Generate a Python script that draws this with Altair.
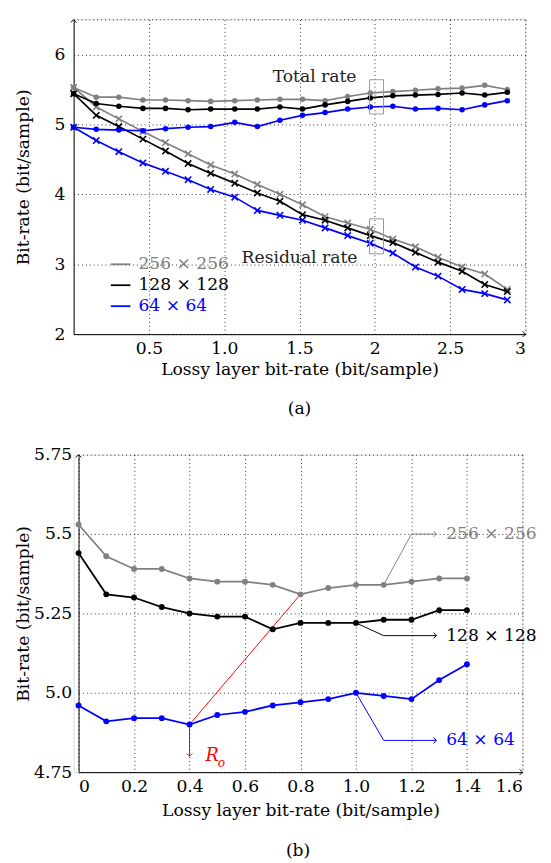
import altair as alt
import pandas as pd

FONT = "DejaVu Serif"
FS = 17.5

sizes = ["256 × 256", "128 × 128", "64 × 64"]
colors = ["#808080", "#000000", "#0000ff"]

# ---- panel (a) ----
x_top = [0.00, 0.15, 0.30, 0.46, 0.61, 0.76, 0.91, 1.07, 1.22, 1.37,
         1.52, 1.67, 1.82, 1.97, 2.12, 2.27, 2.42, 2.58, 2.73, 2.88]
total_256 = [5.53, 5.39, 5.39, 5.35, 5.35, 5.34, 5.33, 5.34, 5.35, 5.36,
             5.36, 5.34, 5.40, 5.45, 5.47, 5.49, 5.51, 5.52, 5.56, 5.50]
total_128 = [5.44, 5.30, 5.26, 5.23, 5.23, 5.21, 5.22, 5.22, 5.22, 5.25,
             5.22, 5.28, 5.33, 5.38, 5.41, 5.42, 5.43, 5.45, 5.42, 5.46]
total_64 = [4.96, 4.93, 4.92, 4.91, 4.94, 4.96, 4.97, 5.03, 4.97, 5.06,
            5.13, 5.17, 5.22, 5.25, 5.26, 5.22, 5.23, 5.21, 5.28, 5.34]
resid_256 = [5.53, 5.25, 5.08, 4.90, 4.74, 4.58, 4.42, 4.29, 4.14, 4.00,
             3.85, 3.68, 3.59, 3.50, 3.36, 3.25, 3.10, 2.96, 2.86, 2.64]
resid_128 = [5.44, 5.13, 4.97, 4.79, 4.62, 4.44, 4.30, 4.16, 4.02, 3.90,
             3.71, 3.63, 3.52, 3.41, 3.31, 3.17, 3.03, 2.90, 2.71, 2.61]
resid_64 = [4.96, 4.77, 4.61, 4.45, 4.33, 4.21, 4.07, 3.96, 3.77, 3.70,
            3.63, 3.52, 3.41, 3.30, 3.16, 2.96, 2.83, 2.64, 2.58, 2.49]

top_x_ticks = [0.5, 1.0, 1.5, 2.0, 2.5, 3.0]
top_y_ticks = [2, 3, 4, 5, 6]
top_y_max = 6.5

# ---- panel (b) ----
x_bot = [0.0, 0.1, 0.2, 0.3, 0.4, 0.5, 0.6, 0.7, 0.8, 0.9, 1.0, 1.1, 1.2, 1.3, 1.4]
bot_256 = [5.53, 5.43, 5.39, 5.39, 5.36, 5.35, 5.35, 5.34, 5.31, 5.33, 5.34, 5.34, 5.35, 5.36, 5.36]
bot_128 = [5.44, 5.31, 5.30, 5.27, 5.25, 5.24, 5.24, 5.20, 5.22, 5.22, 5.22, 5.23, 5.23, 5.26, 5.26]
bot_64 = [4.96, 4.91, 4.92, 4.92, 4.90, 4.93, 4.94, 4.96, 4.97, 4.98, 5.00, 4.99, 4.98, 5.04, 5.09]

bot_x_ticks = [0, 0.2, 0.4, 0.6, 0.8, 1.0, 1.2, 1.4, 1.6]
bot_y_ticks = [4.75, 5.0, 5.25, 5.5, 5.75]

XMARK = "M-1,-1L1,1M-1,1L1,-1"
ARROW = "M-1,-1L0,0L-1,1"


def axis(values, expr, title, **kw):
    return alt.Axis(values=values, labelExpr=expr, title=title, grid=True,
                    gridDash=[1, 3], gridColor="#000000", gridOpacity=0.9, gridWidth=0.9,
                    ticks=False, domainColor="#000000", domainWidth=1,
                    labelFont=FONT, labelFontSize=FS, labelColor="#000000",
                    titleFont=FONT, titleFontSize=FS, titleFontWeight="normal",
                    titleColor="#000000", **kw)


# ================= panel (a) =================
sx_a = alt.Scale(domain=[0, 3], nice=False, zero=False)
sy_a = alt.Scale(domain=[2, top_y_max], nice=False, zero=False)
X_a = alt.X("x:Q", scale=sx_a, axis=axis(top_x_ticks, "datum.value == 1 ? '1.0' : toString(datum.value)",
                                          "Lossy layer bit-rate (bit/sample)", labelPadding=6, titlePadding=4))
Y_a = alt.Y("y:Q", scale=sy_a, axis=axis(top_y_ticks, "toString(datum.value)",
                                          "Bit-rate (bit/sample)", labelPadding=9,
                                          titleX=-51, titleBaseline="middle"))

layers_a = []
# top grid line at the end of the y range
topgrid = pd.DataFrame({"x": [0.0], "x2": [3.0], "y": [top_y_max]})
layers_a.append(alt.Chart(topgrid).mark_rule(color="#000000", strokeWidth=0.9, opacity=0.9,
                                             strokeDash=[1, 3]).encode(x=X_a, x2="x2:Q", y=Y_a))

for name, col, tot, res in zip(sizes, colors, [total_256, total_128, total_64],
                               [resid_256, resid_128, resid_64]):
    dt = pd.DataFrame({"x": x_top, "y": tot})
    dr = pd.DataFrame({"x": x_top, "y": res})
    layers_a.append(alt.Chart(dt).mark_line(color=col, strokeWidth=1.7).encode(x=X_a, y=Y_a))
    layers_a.append(alt.Chart(dt).mark_point(shape="circle", filled=True, size=32, color=col,
                                             opacity=1).encode(x=X_a, y=Y_a))
    layers_a.append(alt.Chart(dr).mark_line(color=col, strokeWidth=1.7).encode(x=X_a, y=Y_a))
    layers_a.append(alt.Chart(dr).mark_point(shape=XMARK, filled=False, size=42, color=col,
                                             strokeWidth=1.6, opacity=1).encode(x=X_a, y=Y_a))

boxes_a = pd.DataFrame({"x": [1.965, 1.965], "x2": [2.058, 2.058], "y": [5.15, 3.15], "y2": [5.64, 3.65]})
layers_a.append(alt.Chart(boxes_a).mark_rect(fill=None, stroke="#999999", strokeWidth=1).encode(
    x=X_a, x2="x2:Q", y=Y_a, y2="y2:Q"))

labels_a = pd.DataFrame({"x": [1.60, 1.50], "y": [5.68, 3.09], "t": ["Total rate", "Residual rate"]})
layers_a.append(alt.Chart(labels_a).mark_text(font=FONT, fontSize=FS, color="#222222").encode(
    x=X_a, y=Y_a, text="t:N"))

leg = pd.DataFrame({"x": [0.247] * 3, "x2": [0.377] * 3, "y": [3.0, 2.70, 2.40],
                    "tx": [0.43] * 3, "t": sizes, "c": colors})
cscale = alt.Scale(domain=sizes, range=colors)
layers_a.append(alt.Chart(leg).mark_rule(strokeWidth=1.8).encode(
    x=X_a, x2="x2:Q", y=Y_a, color=alt.Color("t:N", scale=cscale, legend=None)))
layers_a.append(alt.Chart(leg).mark_text(font=FONT, fontSize=FS, align="left").encode(
    x=alt.X("tx:Q", scale=sx_a), y=Y_a, text="t:N",
    color=alt.Color("t:N", scale=cscale, legend=None)))

arrows_a = pd.DataFrame({"x": [3.0, 0.0], "y": [2.0, top_y_max], "a": [0, 270]})
layers_a.append(alt.Chart(arrows_a).mark_point(shape=ARROW, filled=False, size=34, color="#000000",
                                               strokeWidth=1, opacity=1).encode(
    x=X_a, y=Y_a, angle=alt.Angle("a:Q", scale=None)))

top = alt.layer(*layers_a).properties(
    width=461, height=321,
    title=alt.TitleParams("(a)", orient="bottom", font=FONT, fontSize=FS, fontWeight="normal",
                          frame="group", anchor="middle", offset=23))

# ================= panel (b) =================
sx_b = alt.Scale(domain=[0, 1.6], nice=False, zero=False, range=[5, 458])
sy_b = alt.Scale(domain=[4.75, 5.75], nice=False, zero=False)
X_b = alt.X("x:Q", scale=sx_b, axis=axis(bot_x_ticks, "datum.value == 1 ? '1.0' : toString(datum.value)",
                                          "Lossy layer bit-rate (bit/sample)", labelPadding=6, titlePadding=7))
Y_b = alt.Y("y:Q", scale=sy_b, axis=axis(bot_y_ticks, "datum.value == 5 ? '5.0' : toString(datum.value)",
                                          "Bit-rate (bit/sample)", labelPadding=7, offset=-5,
                                          titleX=-56, titleBaseline="middle"))

layers_b = []
# red annotation line for R_o
red = pd.DataFrame({"x": [0.4, 0.8], "y": [4.90, 5.31]})
layers_b.append(alt.Chart(red).mark_line(color="#ff0000", strokeWidth=1).encode(x=X_b, y=Y_b))
redv = pd.DataFrame({"x": [0.4, 0.4], "y": [4.90, 4.80]})
layers_b.append(alt.Chart(redv).mark_line(color="#ff0000", strokeWidth=1).encode(x=X_b, y=Y_b))

for name, col, vals in zip(sizes, colors, [bot_256, bot_128, bot_64]):
    d = pd.DataFrame({"x": x_bot, "y": vals})
    layers_b.append(alt.Chart(d).mark_line(color=col, strokeWidth=1.8).encode(x=X_b, y=Y_b))
    layers_b.append(alt.Chart(d).mark_point(shape="circle", filled=True, size=36, color=col,
                                            opacity=1).encode(x=X_b, y=Y_b))

# pins
pin_x = [1.1, 1.2, 1.29, 1.0, 1.1, 1.29, 1.0, 1.1, 1.29]
pin_y = [5.34, 5.5, 5.5, 5.22, 5.18, 5.18, 5.0, 4.85, 4.85]
pin_s = [sizes[0]] * 3 + [sizes[1]] * 3 + [sizes[2]] * 3
pins = pd.DataFrame({"x": pin_x, "y": pin_y, "t": pin_s})
layers_b.append(alt.Chart(pins).mark_line(strokeWidth=1).encode(
    x=X_b, y=Y_b, color=alt.Color("t:N", scale=cscale, legend=None)))
pin_lab = pd.DataFrame({"x": [1.29, 1.29, 1.29], "tx": [1.325, 1.325, 1.325],
                        "y": [5.5, 5.18, 4.85], "t": sizes})
layers_b.append(alt.Chart(pin_lab).mark_point(shape=ARROW, filled=False, size=34, strokeWidth=1,
                                              opacity=1).encode(
    x=X_b, y=Y_b, color=alt.Color("t:N", scale=cscale, legend=None)))
layers_b.append(alt.Chart(pin_lab).mark_text(font=FONT, fontSize=FS, align="left").encode(
    x=alt.X("tx:Q", scale=sx_b), y=Y_b, text="t:N",
    color=alt.Color("t:N", scale=cscale, legend=None)))

# R_o label and arrow
ro_arrow = pd.DataFrame({"x": [0.4], "y": [4.80], "a": [90]})
layers_b.append(alt.Chart(ro_arrow).mark_point(shape=ARROW, filled=False, size=34, color="#ff0000",
                                               strokeWidth=1, opacity=1).encode(
    x=X_b, y=Y_b, angle=alt.Angle("a:Q", scale=None)))
ro = pd.DataFrame({"x": [0.458], "y": [4.80], "t": ["R"]})
layers_b.append(alt.Chart(ro).mark_text(font=FONT, fontSize=18, fontStyle="italic", align="left",
                                        color="#ff0000").encode(x=X_b, y=Y_b, text="t:N"))
ro_sub = pd.DataFrame({"x": [0.502], "y": [4.797], "t": ["o"]})
layers_b.append(alt.Chart(ro_sub).mark_text(font=FONT, fontSize=12.5, fontStyle="italic", align="left",
                                            baseline="top", color="#ff0000").encode(x=X_b, y=Y_b, text="t:N"))

arrows_b = pd.DataFrame({"x": [1.6, 0.0], "y": [4.75, 5.75], "a": [0, 270]})
layers_b.append(alt.Chart(arrows_b).mark_point(shape=ARROW, filled=False, size=34, color="#000000",
                                               strokeWidth=1, opacity=1).encode(
    x=X_b, y=Y_b, angle=alt.Angle("a:Q", scale=None)))

bottom = alt.layer(*layers_b).properties(
    width=458, height=324,
    title=alt.TitleParams("(b)", orient="bottom", font=FONT, fontSize=FS, fontWeight="normal",
                          frame="group", anchor="middle", offset=24))

chart = alt.ConcatChart(concat=[top, bottom], columns=1, align="none", spacing=27).properties(
    padding={"left": 6, "top": 0, "right": 5, "bottom": 0}
).configure_view(stroke=None).configure(background="white")

chart.save("out.html", embed_options={"renderer": "svg", "actions": False})
